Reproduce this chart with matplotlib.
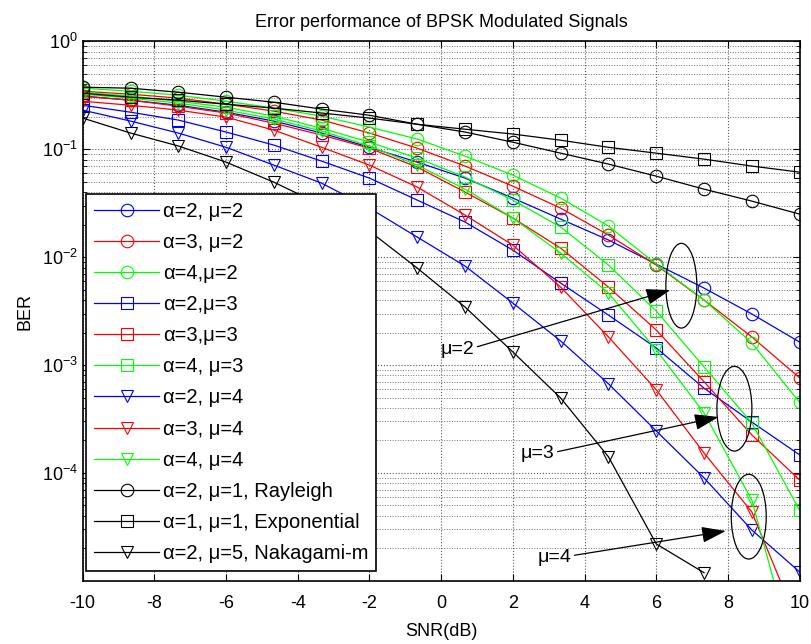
import numpy as np
import matplotlib
matplotlib.use('Agg')
import matplotlib.pyplot as plt
from matplotlib.patches import Ellipse
from matplotlib.ticker import LogLocator, NullFormatter

plt.rcParams['font.family'] = ['Liberation Sans', 'DejaVu Sans']
plt.rcParams['font.size'] = 13
plt.rcParams['axes.unicode_minus'] = False

# SNR grid (dB) and BER
snr = np.linspace(-10, 10, 16)

a2_m2 = [0.310, 0.284, 0.255, 0.220, 0.182, 0.141, 0.104, 0.0758, 0.0539, 0.0352,
         0.0225, 0.0144, 0.00861, 0.00516, 0.00297, 0.00163]
a3_m2 = [0.344, 0.323, 0.297, 0.261, 0.225, 0.186, 0.141, 0.102, 0.0697, 0.0454,
         0.0284, 0.0160, 0.00843, 0.00400, 0.00182, 7.6e-4]
a4_m2 = [0.367, 0.344, 0.316, 0.278, 0.240, 0.202, 0.160, 0.124, 0.0861, 0.0574,
         0.0352, 0.0194, 0.00861, 0.00400, 0.00160, 4.5e-4]
a2_m3 = [0.255, 0.220, 0.186, 0.144, 0.109, 0.0774, 0.0539, 0.0337, 0.0211, 0.0116,
         0.00574, 0.00290, 0.00144, 6.1e-4, 2.96e-4, 1.47e-4]
a3_m3 = [0.310, 0.284, 0.250, 0.216, 0.174, 0.135, 0.102, 0.0681, 0.0400, 0.0230,
         0.0121, 0.00527, 0.00211, 7.0e-4, 2.25e-4, 8.6e-5]
a4_m3 = [0.337, 0.310, 0.278, 0.245, 0.202, 0.156, 0.116, 0.0825, 0.0551, 0.0337,
         0.0190, 0.00843, 0.00316, 9.6e-4, 2.9e-4, 4.5e-5]
a2_m4 = [0.230, 0.182, 0.141, 0.104, 0.0711, 0.0484, 0.0284, 0.0153, 0.00825, 0.00375,
         0.00167, 6.7e-4, 2.45e-4, 9.0e-5, 2.96e-5, 1.21e-5]
a3_m4 = [0.278, 0.255, 0.230, 0.198, 0.150, 0.104, 0.0711, 0.0445, 0.0245, 0.0129,
         0.00527, 0.00182, 5.9e-4, 1.53e-4, 4.35e-5, 3.7e-6]
a4_m4 = [0.323, 0.297, 0.267, 0.230, 0.190, 0.147, 0.107, 0.0711, 0.0426, 0.0230,
         0.0109, 0.00464, 0.00138, 3.6e-4, 5.6e-5, 1.3e-6]
rayleigh = [0.375, 0.367, 0.337, 0.303, 0.272, 0.235, 0.206, 0.170, 0.144, 0.116,
            0.0918, 0.0727, 0.0562, 0.0426, 0.0330, 0.0250]
exponential = [0.330, 0.303, 0.284, 0.261, 0.240, 0.216, 0.194, 0.170, 0.153, 0.138,
               0.121, 0.104, 0.0918, 0.0808, 0.0697, 0.0612]
nakagami = [0.194, 0.141, 0.107, 0.0758, 0.0494, 0.0303, 0.0174, 0.0079, 0.00344, 0.00132,
            4.95e-4, 1.41e-4, 2.2e-5, 1.19e-5, np.nan, np.nan]

labels = ['α=2, μ=2', 'α=3, μ=2', 'α=4,μ=2', 'α=2,μ=3', 'α=3,μ=3', 'α=4, μ=3',
          'α=2, μ=4', 'α=3, μ=4', 'α=4, μ=4', 'α=2, μ=1, Rayleigh',
          'α=1, μ=1, Exponential', 'α=2, μ=5, Nakagami-m']
series = [a2_m2, a3_m2, a4_m2, a2_m3, a3_m3, a4_m3, a2_m4, a3_m4, a4_m4,
          rayleigh, exponential, nakagami]
colors = ['#0000ff', '#ff0000', '#00ff00'] * 3 + ['k'] * 3
markers = ['o'] * 3 + ['s'] * 3 + ['v'] * 3 + ['o', 's', 'v']

fig = plt.figure(figsize=(8.11, 6.44), dpi=100)
ax = fig.add_axes([0.102, 0.098, 0.884, 0.838])

for y, lab, c, m in zip(series, labels, colors, markers):
    ax.semilogy(snr, y, color=c, marker=m, markersize=9, mfc='none',
                mec=c, mew=0.8, lw=0.9, label=lab)

ax.set_xlim(-10, 10)
ax.set_ylim(1e-5, 1)
ax.set_xticks(np.arange(-10, 11, 2))
ax.set_yticks([1e-4, 1e-3, 1e-2, 1e-1, 1])
ax.yaxis.set_minor_locator(LogLocator(base=10, subs=np.arange(2, 10), numticks=20))
ax.yaxis.set_minor_formatter(NullFormatter())
ax.grid(True, which='major', ls=':', color='0.35', lw=0.8)
ax.grid(True, which='minor', axis='y', ls=':', color='0.45', lw=0.7)
ax.tick_params(which='both', direction='in', top=True, right=True)
ax.tick_params(which='major', length=5)
ax.tick_params(axis='x', pad=10)
ax.tick_params(which='minor', length=3)
for s in ax.spines.values():
    s.set_linewidth(1.2)

ax.set_title('Error performance of BPSK Modulated Signals', fontsize=13, pad=10)
ax.set_xlabel('SNR(dB)', labelpad=8)
ax.set_ylabel('BER', labelpad=6)

leg = ax.legend(loc='upper left', bbox_to_anchor=(0.005, 0.717), borderaxespad=0,
                fancybox=False, framealpha=1, edgecolor='k', handlelength=3.2,
                handletextpad=0.2, labelspacing=0.6, fontsize=14.5, borderpad=0.4)
leg.get_frame().set_linewidth(1.2)

# ellipses grouping the curves, in axes fraction
for cx, cy, w in [(0.835, 0.547, 0.0432), (0.909, 0.319, 0.0488), (0.929, 0.119, 0.0488)]:
    ax.add_patch(Ellipse((cx, cy), w, 0.157, transform=ax.transAxes,
                         fill=False, ec='k', lw=0.9, zorder=5))

arrow = dict(arrowstyle='-|>,head_length=0.75,head_width=0.25', color='k',
             lw=0.9, mutation_scale=20, relpos=(1, 0.6), shrinkA=0, shrinkB=0)
ax.annotate('μ=2', xy=(6.39, 4.95e-3), xytext=(0.93, 1.4e-3), ha='right', va='center',
            arrowprops=arrow, fontsize=14)
ax.annotate('μ=3', xy=(7.74, 3.3e-4), xytext=(3.17, 1.5e-4), ha='right', va='center',
            arrowprops=arrow, fontsize=14)
ax.annotate('μ=4', xy=(7.94, 2.9e-5), xytext=(3.64, 1.65e-5), ha='right', va='center',
            arrowprops=arrow, fontsize=14)

plt.savefig('out.png', dpi=100)
